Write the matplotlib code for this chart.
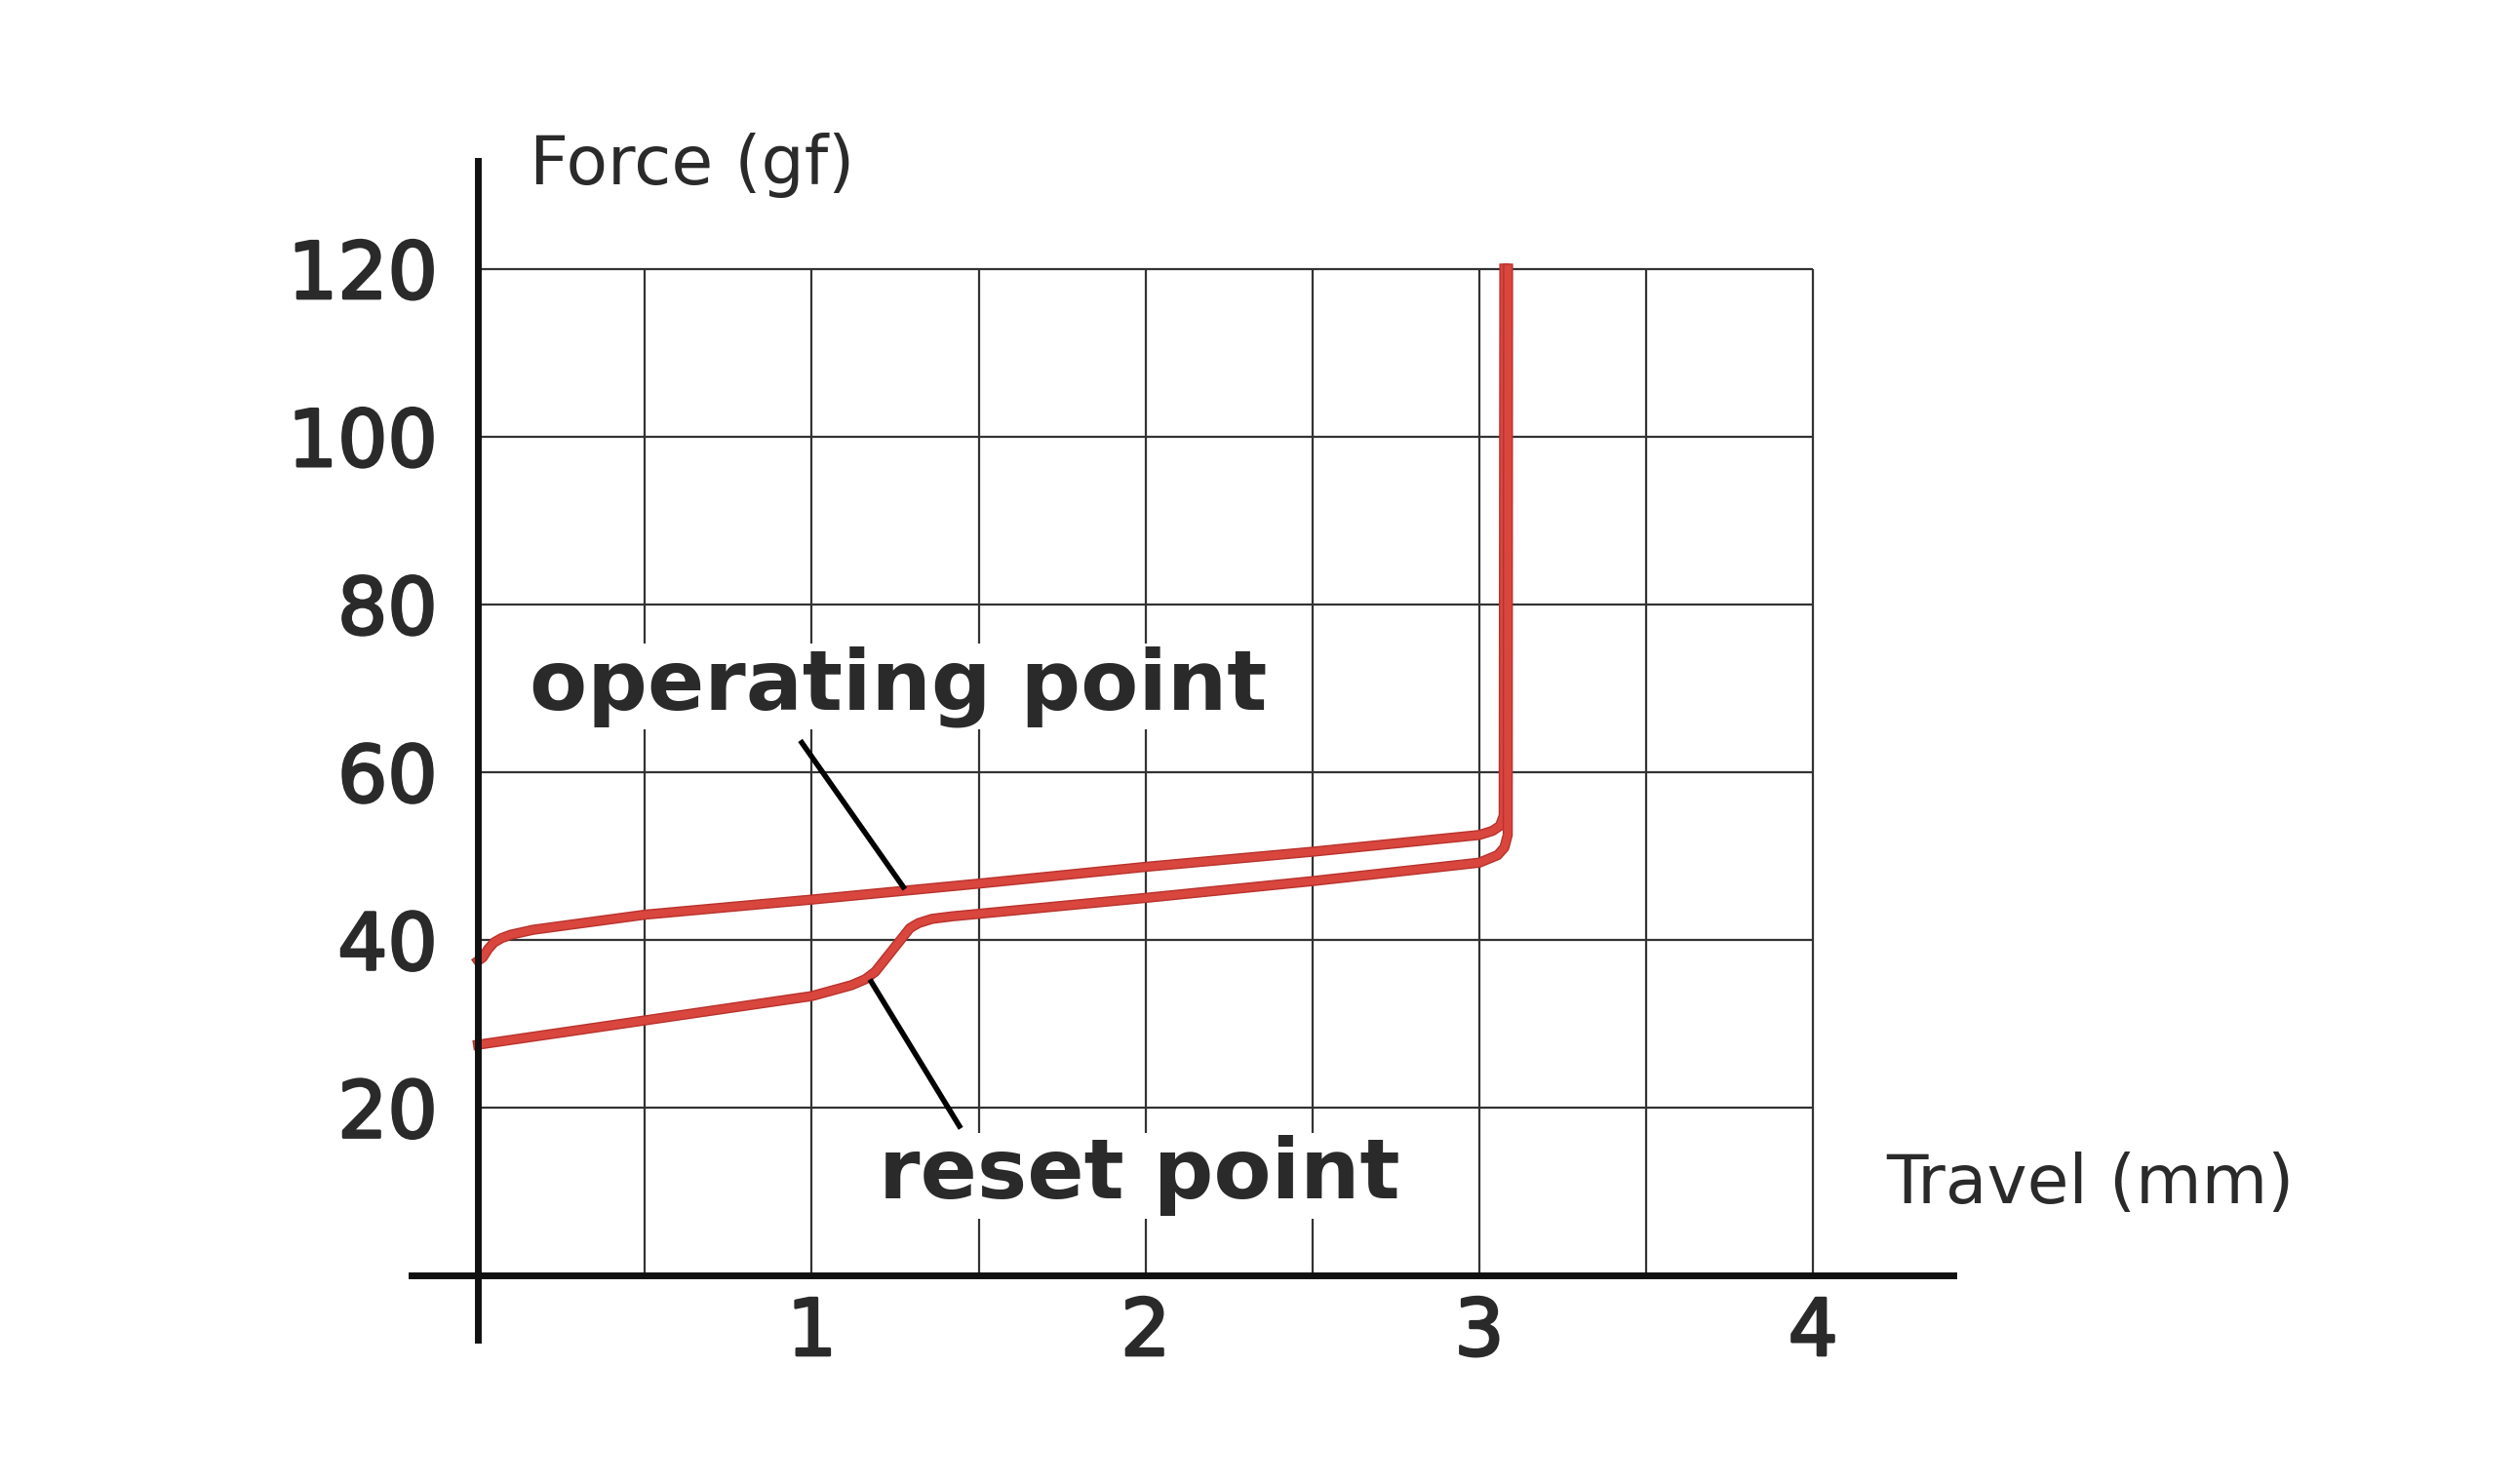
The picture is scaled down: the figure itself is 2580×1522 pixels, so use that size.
import matplotlib
matplotlib.use('Agg')
import matplotlib.pyplot as plt
import matplotlib.patheffects as pe

# press (operating) curve: travel in mm, force in gf
op_x = [0.0, 0.014, 0.03, 0.048, 0.07, 0.097, 0.165, 0.5, 1.0, 1.5, 2.0, 2.5, 3.0, 3.04, 3.062, 3.073, 3.075]
op_y = [37.5, 37.9, 38.9, 39.7, 40.2, 40.6, 41.2, 43.0, 44.8, 46.7, 48.7, 50.5, 52.5, 53.0, 53.6, 54.8, 120.0]

# release (reset) curve
rs_x = [3.086, 3.085, 3.075, 3.055, 3.0, 2.5, 2.0, 1.5, 1.42, 1.36, 1.32, 1.294, 1.236, 1.19, 1.16, 1.119, 1.0, 0.5, 0.0]
rs_y = [120.0, 52.5, 51.0, 50.1, 49.2, 47.0, 45.0, 43.1, 42.8, 42.5, 42.0, 41.4, 38.5, 36.2, 35.3, 34.6, 33.3, 30.4, 27.5]

x_ticks = [1, 2, 3, 4]
y_ticks = [20, 40, 60, 80, 100, 120]
grid_x = [0.5, 1.0, 1.5, 2.0, 2.5, 3.0, 3.5, 4.0]
grid_y = [20, 40, 60, 80, 100, 120]

txt = '#2a2a2a'
red = '#d9463e'

fig = plt.figure(figsize=(25.8, 15.22), dpi=100)
ax = fig.add_axes([0.1237, 0.02746, 0.7561, 0.9046])
ax.set_xlim(-0.5, 5.2)
ax.set_ylim(-20, 140)

# grid box
ax.vlines(grid_x, 0, 120, color='#333333', lw=1.6, zorder=1)
ax.hlines(grid_y, 0, 4, color='#333333', lw=1.6, zorder=1)

# curves
fx = [pe.Stroke(linewidth=7.5, foreground='#b8322c'), pe.Normal()]
ax.plot(op_x, op_y, color=red, lw=5.5, solid_joinstyle='round', path_effects=fx, zorder=3)
ax.plot(rs_x, rs_y, color=red, lw=5.5, solid_joinstyle='round', path_effects=fx, zorder=3)

# annotations
ax.text(0.154, 70.2, 'operating point', fontsize=62, fontweight='bold', color=txt,
        ha='left', va='center', zorder=4,
        bbox=dict(facecolor='white', edgecolor='none', pad=2))
ax.plot([0.97, 1.274], [63.5, 46.3], color='black', lw=4, zorder=4)
ax.text(1.20, 11.9, 'reset point', fontsize=62, fontweight='bold', color=txt,
        ha='left', va='center', zorder=4,
        bbox=dict(facecolor='white', edgecolor='none', pad=2))
ax.plot([1.178, 1.442], [35.0, 17.8], color='black', lw=4, zorder=4)

# axes
for s in ['top', 'right']:
    ax.spines[s].set_visible(False)
ax.spines['left'].set_position(('data', 0))
ax.spines['bottom'].set_position(('data', 0))
ax.spines['left'].set_bounds(-7.6, 132.9)
ax.spines['bottom'].set_bounds(-0.2, 4.42)
for s in ['left', 'bottom']:
    ax.spines[s].set_linewidth(5)
    ax.spines[s].set_color('#111111')
    ax.spines[s].set_zorder(5)

ax.set_xticks(x_ticks)
ax.set_yticks(y_ticks)
ax.tick_params(axis='both', length=0, labelsize=58, labelcolor=txt)
ax.tick_params(axis='y', pad=30)
ax.tick_params(axis='x', pad=15)
for lab in ax.get_xticklabels() + ax.get_yticklabels():
    lab.set_path_effects([pe.withStroke(linewidth=2, foreground=txt)])

ax.set_ylabel('Force (gf)', fontsize=50, color=txt, rotation=0, ha='left', va='center')
ax.yaxis.set_label_coords(0.154, 132.3, transform=ax.transData)
ax.set_xlabel('Travel (mm)', fontsize=50, color=txt, ha='left', va='center')
ax.xaxis.set_label_coords(4.22, 10.9, transform=ax.transData)

fig.savefig('out.png', dpi=100, facecolor='white')
